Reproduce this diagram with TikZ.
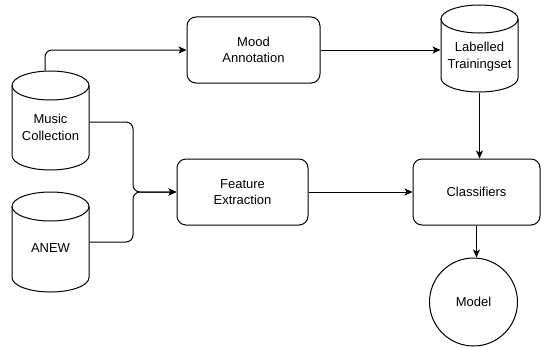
\documentclass[tikz,border=0pt]{standalone}
\usepackage{fontspec}
\setmainfont{Liberation Sans}
\usetikzlibrary{arrows.meta}
\begin{document}
\begin{tikzpicture}[x=1bp,y=1bp,
  line width=1bp,
  every node/.style={font=\fontsize{13bp}{16.5bp}\selectfont, align=center, inner sep=0pt},
  procbox/.style={draw, rounded corners=9bp, minimum height=66bp},
  cylbox/.style={minimum width=77bp},
  conn/.style={-{Stealth[length=8bp,width=7bp,inset=2bp]}, rounded corners=7bp}]
\useasboundingbox (0,0) rectangle (541,346);
% Music Collection cylinder
\draw (12,260.5) -- (12,190.5) arc[start angle=180,end angle=360,x radius=38.5bp,y radius=14.5bp] -- (89,260.5);
\draw (50.5,260.5) ellipse [x radius=38.5bp, y radius=14.5bp];
\node[cylbox, minimum height=99bp] (mc) at (50.5,225.5) {};
\node (mctext) at (50.5,218.5) {Music\\Collection};
% ANEW cylinder
\draw (12,139.5) -- (12,68.5) arc[start angle=180,end angle=360,x radius=38.5bp,y radius=14.5bp] -- (89,139.5);
\draw (50.5,139.5) ellipse [x radius=38.5bp, y radius=14.5bp];
\node[cylbox, minimum height=100bp] (anew) at (50.5,104) {};
\node (anewtext) at (50.5,98) {ANEW};
% Labelled Trainingset cylinder
\draw (441,327) -- (441,268) arc[start angle=180,end angle=360,x radius=38.5bp,y radius=14bp] -- (518,327);
\draw (479.5,327) ellipse [x radius=38.5bp, y radius=14bp];
\node[cylbox, minimum height=87bp] (lab) at (479.5,297.5) {};
\node (labtext) at (479.5,289.5) {Labelled\\Trainingset};
% process boxes
\node[procbox, minimum width=133bp] (mood) at (253.5,296) {Mood\\Annotation};
\node[procbox, minimum width=131bp] (fe) at (242.5,154) {Feature\\Extraction};
\node[procbox, minimum width=127bp] (cls) at (476.5,154) {Classifiers};
\node[draw, circle, minimum size=88bp] (model) at (473.5,44) {Model};
% connectors
\coordinate (j) at (133,154);
\draw[conn] ([xshift=-5.5bp]mc.north) |- (mood.west);
\draw[conn] (mood.east) -- (mood.east -| lab.west);
\draw[conn] (lab.south) -- (lab.south |- cls.north);
\draw[conn] ([yshift=-1.5bp]mc.east) -| (j) -- (fe.west);
\draw[conn] (anew.east) -| (j) -- (fe.west);
\draw[conn] (fe.east) -- (cls.west);
\draw[conn] (cls.south) -- (cls.south |- model.north);
\end{tikzpicture}
\end{document}
